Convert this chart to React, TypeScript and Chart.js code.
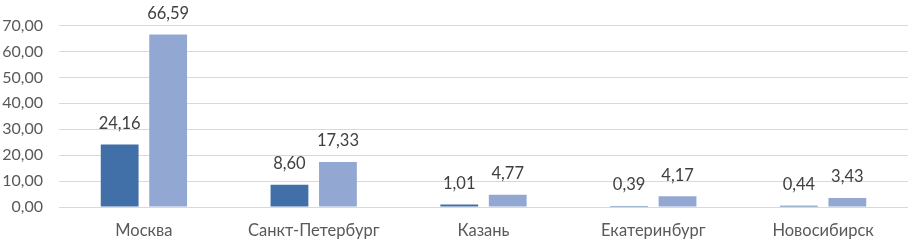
import React, { useEffect, useRef } from "react";
import { Chart, registerables } from "chart.js";

Chart.register(...registerables);

const categories = ["Москва", "Санкт-Петербург", "Казань", "Екатеринбург", "Новосибирск"];
const seriesA = [24.16, 8.6, 1.01, 0.39, 0.44];
const seriesB = [66.59, 17.33, 4.77, 4.17, 3.43];
const yTicks = [0, 10, 20, 30, 40, 50, 60, 70];

const FONT = "Lato, 'Open Sans', sans-serif";
const fmt = (v: number) => v.toFixed(2).replace(".", ",");

const labelPlugin = {
  id: "barLabels",
  afterDatasetsDraw(chart: any) {
    const ctx = chart.ctx;
    ctx.save();
    ctx.font = `16.5px ${FONT}`;
    ctx.fillStyle = "#404040";
    ctx.textAlign = "center";
    ctx.textBaseline = "middle";
    chart.data.datasets.forEach((ds: any, i: number) => {
      const meta = chart.getDatasetMeta(i);
      meta.data.forEach((bar: any, j: number) => {
        ctx.fillText(fmt(ds.data[j]), bar.x, bar.y - 21);
      });
    });
    ctx.restore();
  },
};

export default function App() {
  const ref = useRef<HTMLCanvasElement>(null);
  useEffect(() => {
    document.body.style.margin = "0";
    const chart = new Chart(ref.current!, {
      type: "bar",
      data: {
        labels: categories,
        datasets: [
          { label: "A", data: seriesA, backgroundColor: "#4170a8", barPercentage: 0.78, categoryPercentage: 0.571 },
          { label: "B", data: seriesB, backgroundColor: "#92a8d3", barPercentage: 0.78, categoryPercentage: 0.571 },
        ],
      },
      options: {
        animation: false,
        responsive: false,
        maintainAspectRatio: false,
        layout: { padding: { top: 20, right: 1, left: 0, bottom: 0 } },
        plugins: { legend: { display: false }, tooltip: { enabled: false } },
        scales: {
          x: {
            grid: { display: false, drawTicks: false },
            border: { display: false },
            ticks: { font: { family: FONT, size: 16.5 }, color: "#595959", padding: 14 },
            afterFit: (s: any) => { s.height = 34; },
          },
          y: {
            min: 0,
            max: 70,
            afterBuildTicks: (s: any) => { s.ticks = yTicks.map((v) => ({ value: v })); },
            grid: { color: "#d9d9d9", drawTicks: false, lineWidth: 1 },
            border: { display: false },
            ticks: {
              font: { family: FONT, size: 16 },
              color: "#595959",
              padding: 16,
              callback: (v: any) => fmt(Number(v)),
            },
            afterFit: (s: any) => { s.width = 59; },
          },
        },
      },
      plugins: [labelPlugin],
    });
    return () => chart.destroy();
  }, []);
  return <canvas ref={ref} width={909} height={241} style={{ display: "block" }} />;
}
